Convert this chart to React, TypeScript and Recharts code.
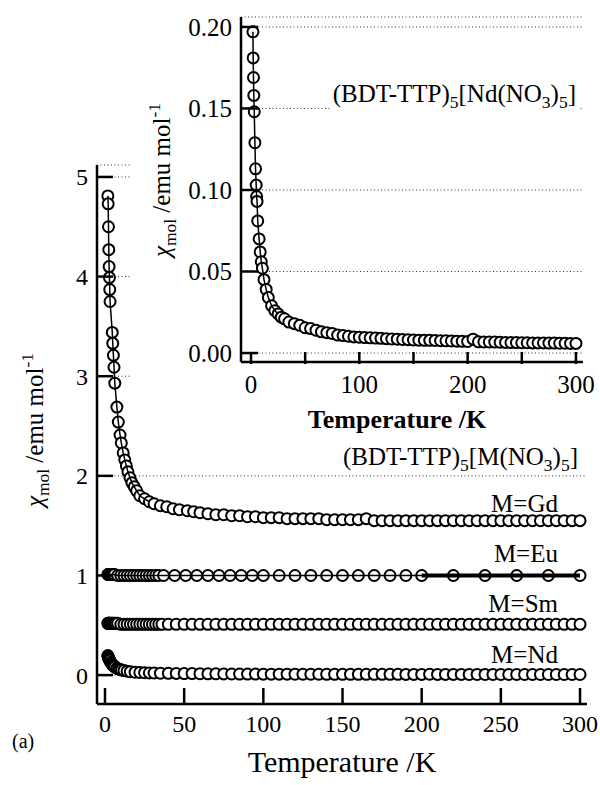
import React from 'react';
import { ScatterChart, Scatter, XAxis, YAxis, CartesianGrid } from 'recharts';

const FONT = '"Liberation Serif", "Times New Roman", serif';

// tick values
const mainXTicks = [0, 50, 100, 150, 200, 250, 300];
const mainYTicks = [0, 1, 2, 3, 4, 5];
const insetXTicks = [0, 50, 100, 150, 200, 250, 300];
const insetYTicks = [0, 0.05, 0.1, 0.15, 0.2];

// M = Gd (plotted with its vertical offset)
const gdT = [
  1.8, 2.0, 2.2, 2.4, 2.6, 2.8, 3.0, 3.2, 4.6, 4.9, 5.3, 5.7, 6.2, 7.5, 8.4, 9.5, 10.3, 11.5,
  12.5, 13.5, 14.5, 15.8, 17, 18.5, 20, 22, 25, 28, 31, 35, 39, 43, 47, 52, 56, 60,
  65, 70, 75, 80, 85, 90, 95, 100, 105, 110, 115, 120, 125, 130, 135, 140, 145, 150, 155, 160,
  165, 170, 175, 180, 185, 190, 195, 200, 205, 210, 215, 220, 225, 230, 235, 240, 245, 250,
  255, 260, 265, 270, 275, 280, 285, 290, 295, 300,
];
const gdChi = [
  4.81, 4.73, 4.5, 4.27, 4.1, 3.99, 3.87, 3.75, 3.44, 3.33, 3.21, 3.09, 2.93, 2.69, 2.54, 2.41, 2.33, 2.23,
  2.16, 2.1, 2.04, 1.98, 1.93, 1.89, 1.85, 1.8, 1.77, 1.74, 1.72, 1.7, 1.69, 1.67, 1.66, 1.65, 1.64, 1.63,
  1.62, 1.61, 1.61, 1.6, 1.6, 1.59, 1.59, 1.58, 1.58, 1.58, 1.57, 1.57, 1.57, 1.57, 1.57, 1.56, 1.56, 1.56, 1.56, 1.56,
  1.57, 1.55, 1.55, 1.55, 1.55, 1.55, 1.55, 1.55, 1.55, 1.55, 1.55, 1.55, 1.55, 1.55, 1.55, 1.55, 1.55, 1.55,
  1.55, 1.55, 1.55, 1.55, 1.55, 1.55, 1.55, 1.55, 1.55, 1.55,
];

// M = Eu
const euT = [
  1.8, 2.1, 2.4, 2.7, 3.0, 3.4, 3.8, 4.2, 4.6, 5.0, 5.5, 6, 8, 10, 12, 14, 16, 18, 20, 22, 24, 26,
  28, 30, 32, 34, 37, 44, 51, 58, 65, 72, 79, 86, 93, 100, 110, 120, 130, 140, 150, 160, 170, 180,
  190, 200, 220, 240, 260, 280, 300,
];
const euChi = [
  1.01, 1.01, 1.01, 1.01, 1.01, 1.01, 1.01, 1.01, 1.01, 1.01, 1.01, 1.01, 1.0, 1.0, 1.0, 1.0, 1.0, 1.0, 1.0, 1.0, 1.0, 1.0,
  1.0, 1.0, 1.0, 1.0, 1.0, 1.0, 1.0, 1.0, 1.0, 1.0, 1.0, 1.0, 1.0, 1.0, 1.0, 1.0, 1.0, 1.0, 1.0, 1.0, 1.0, 1.0,
  1.0, 1.0, 1.0, 1.0, 1.0, 1.0, 1.0,
];

// M = Sm
const smT = [
  1.8, 2.0, 2.3, 2.6, 3.0, 3.4, 3.8, 4.3, 4.8, 5.4, 6, 7, 8, 10, 12, 14, 16, 18, 20, 22, 24, 26, 28,
  30, 32, 34, 36, 40, 45, 50, 55, 60, 65, 70, 75, 80, 85, 90, 95, 100, 105, 110, 115, 120, 125, 130,
  135, 140, 145, 150, 155, 160, 165, 170, 175, 180, 185, 190, 195, 200, 205, 210, 215, 220, 225, 230,
  235, 240, 245, 250, 255, 260, 265, 270, 275, 280, 285, 290, 295, 300,
];
const smChi = [
  0.52, 0.52, 0.52, 0.52, 0.52, 0.52, 0.52, 0.52, 0.52, 0.52, 0.52, 0.52, 0.52, 0.51, 0.51, 0.51, 0.51, 0.51, 0.51, 0.51, 0.51, 0.51, 0.51,
  0.51, 0.51, 0.51, 0.51, 0.51, 0.51, 0.51, 0.51, 0.51, 0.51, 0.51, 0.51, 0.51, 0.51, 0.51, 0.51, 0.51, 0.51, 0.51, 0.51, 0.51, 0.51, 0.51,
  0.51, 0.51, 0.51, 0.51, 0.51, 0.51, 0.51, 0.51, 0.51, 0.51, 0.51, 0.51, 0.51, 0.51, 0.51, 0.51, 0.51, 0.51, 0.51, 0.51,
  0.51, 0.51, 0.51, 0.51, 0.51, 0.51, 0.51, 0.51, 0.51, 0.51, 0.51, 0.51, 0.51, 0.51,
];

// M = Nd (main panel and inset)
const ndT = [
  1.8, 2.0, 2.3, 2.6, 3.0, 3.6, 4.2, 4.8, 5.2, 5.6, 6.2, 7.5, 8.5, 9.5, 10.5, 12, 14, 16, 19, 22, 25,
  28, 31, 35, 40, 45, 50, 55, 60, 65, 70, 75, 80, 85, 90, 95, 100, 105, 110, 115, 120, 125, 130, 135,
  140, 145, 150, 155, 160, 165, 170, 175, 180, 185, 190, 195, 200, 205, 210, 215, 220, 225, 230, 235,
  240, 245, 250, 255, 260, 265, 270, 275, 280, 285, 290, 295, 300,
];
const ndChi = [
  0.197, 0.181, 0.169, 0.158, 0.148, 0.129, 0.113, 0.103, 0.096, 0.093, 0.081, 0.07, 0.062, 0.056, 0.052, 0.045, 0.039, 0.034, 0.029, 0.026, 0.024,
  0.022, 0.021, 0.019, 0.018, 0.017, 0.0155, 0.015, 0.014, 0.013, 0.0125, 0.012, 0.011, 0.0107, 0.0103, 0.0099, 0.0097, 0.0095, 0.0093, 0.0092, 0.009, 0.0088, 0.0086, 0.0085,
  0.0083, 0.0082, 0.008, 0.0079, 0.0078, 0.0078, 0.0077, 0.0076, 0.0075, 0.0074, 0.0073, 0.0072, 0.0071, 0.0085, 0.0069, 0.0068, 0.0068, 0.0067, 0.0066, 0.0065,
  0.0064, 0.0064, 0.0063, 0.0063, 0.0062, 0.0062, 0.0062, 0.0061, 0.0061, 0.006, 0.006, 0.0059, 0.0059,
];

const pts = (t: number[], v: number[]) => t.map((x, i) => ({ x, y: v[i] }));

const gdData = pts(gdT, gdChi);
const euData = pts(euT, euChi);
const smData = pts(smT, smChi);
const ndData = pts(ndT, ndChi);
const gdFit = gdData.filter((p) => p.x <= 30);
const euFit = euData.filter((p) => p.x >= 200);
const ndFit = ndData.filter((p) => p.x <= 25);

const OpenCircle = (props: any) => {
  const { cx, cy } = props;
  if (cx == null || cy == null) return <g />;
  return <circle cx={cx} cy={cy} r={5.5} fill="#fff" stroke="#000" strokeWidth={2} />;
};
const NoMark = () => <g />;

// inward ticks: label outside, short bar pointing into the plot
const GAP = 9;
const leftTick = (len: number, size: number, fmt: (v: number) => string) => (p: any) => (
  <g>
    <line x1={p.x + GAP} x2={p.x + GAP + len} y1={p.y} y2={p.y} stroke="#000" strokeWidth={2.5} />
    <text x={p.x} y={p.y} dy="0.35em" textAnchor="end" fontSize={size} fontFamily={FONT} fill="#000">
      {fmt(p.payload.value)}
    </text>
  </g>
);
const bottomTick = (len: number, size: number, show: (v: number) => boolean) => (p: any) => (
  <g>
    <line x1={p.x} x2={p.x} y1={p.y - GAP} y2={p.y - GAP - len} stroke="#000" strokeWidth={2.5} />
    {show(p.payload.value) && (
      <text x={p.x} y={p.y} dy="0.8em" textAnchor="middle" fontSize={size} fontFamily={FONT} fill="#000">
        {p.payload.value}
      </text>
    )}
  </g>
);

const frame = { stroke: '#000', strokeWidth: 2.5 };

const YTitle = ({ x, y, size }: { x: number; y: number; size: number }) => (
  <text x={x} y={y} transform={`rotate(-90 ${x} ${y})`} textAnchor="middle" fontSize={size} fontFamily={FONT} fill="#000">
    <tspan fontStyle="italic">χ</tspan>
    <tspan fontSize={size * 0.7} dy={size * 0.25}>mol</tspan>
    <tspan dy={-size * 0.25}> /emu mol</tspan>
    <tspan fontSize={size * 0.7} dy={-size * 0.4}>-1</tspan>
  </text>
);

const Formula = ({ x, y, metal, size }: { x: number; y: number; metal: string; size: number }) => (
  <text x={x} y={y} textAnchor="end" fontSize={size} fontFamily={FONT} fill="#000">
    (BDT-TTP)<tspan fontSize={size * 0.7} dy={size * 0.25}>5</tspan>
    <tspan dy={-size * 0.25}>[{metal}(NO</tspan>
    <tspan fontSize={size * 0.7} dy={size * 0.25}>3</tspan>
    <tspan dy={-size * 0.25}>)</tspan>
    <tspan fontSize={size * 0.7} dy={size * 0.25}>5</tspan>
    <tspan dy={-size * 0.25}>]</tspan>
  </text>
);

export default function App() {
  return (
    <div style={{ position: 'absolute', left: 0, top: 0, width: 600, height: 785, background: '#fff' }}>
      <div style={{ position: 'absolute', left: 0, top: 0 }}>
        <ScatterChart width={600} height={785} margin={{ top: 165, right: 13, bottom: 41, left: 0 }}>
          <CartesianGrid vertical={false} stroke="#333" strokeDasharray="1 2.5" />
          <XAxis
            type="number"
            dataKey="x"
            domain={[-5.05, 304.4]}
            ticks={mainXTicks}
            interval={0}
            allowDataOverflow
            height={40}
            tickSize={0}
            tickMargin={GAP}
            tickLine={false}
            axisLine={frame}
            tick={bottomTick(16, 24, () => true)}
          />
          <XAxis xAxisId="top" orientation="top" type="number" domain={[-5.05, 304.4]} height={0} tick={false} tickLine={false} axisLine={frame} />
          <YAxis
            type="number"
            dataKey="y"
            domain={[-0.29, 5.12]}
            ticks={mainYTicks}
            interval={0}
            allowDataOverflow
            width={97}
            tickSize={0}
            tickMargin={GAP}
            tickLine={false}
            axisLine={frame}
            tick={leftTick(16, 24, (v) => String(v))}
          />
          <YAxis yAxisId="right" orientation="right" type="number" domain={[-0.29, 5.12]} width={0} tick={false} tickLine={false} axisLine={frame} />
          <Scatter name="M=Nd" data={ndData} shape={OpenCircle} isAnimationActive={false} />
          <Scatter name="M=Sm" data={smData} shape={OpenCircle} isAnimationActive={false} />
          <Scatter name="M=Eu" data={euData} shape={OpenCircle} isAnimationActive={false} />
          <Scatter name="Eu line" data={euData} shape={NoMark} line={{ stroke: '#000', strokeWidth: 1.5 }} isAnimationActive={false} />
          <Scatter name="Eu fit" data={euFit} shape={NoMark} line={{ stroke: '#000', strokeWidth: 4 }} isAnimationActive={false} />
          <Scatter name="M=Gd" data={gdData} shape={OpenCircle} isAnimationActive={false} />
          <Scatter name="Gd fit" data={gdFit} shape={NoMark} line={{ stroke: '#000', strokeWidth: 1.5 }} isAnimationActive={false} />
        </ScatterChart>
      </div>

      <div style={{ position: 'absolute', left: 130, top: 0, width: 470, height: 445, background: '#fff' }}>
        <ScatterChart width={470} height={445} margin={{ top: 17, right: 17, bottom: 43, left: 0 }}>
          <CartesianGrid vertical={false} stroke="#333" strokeDasharray="1 2.5" />
          <XAxis
            type="number"
            dataKey="x"
            domain={[-9.23, 306.5]}
            ticks={insetXTicks}
            interval={0}
            allowDataOverflow
            height={40}
            tickSize={0}
            tickMargin={GAP + 2}
            tickLine={false}
            axisLine={frame}
            tick={bottomTick(12, 25, (v) => v % 100 === 0)}
          />
          <XAxis xAxisId="top" orientation="top" type="number" domain={[-9.23, 306.5]} height={0} tick={false} tickLine={false} axisLine={frame} />
          <YAxis
            type="number"
            dataKey="y"
            domain={[-0.0055, 0.2061]}
            ticks={insetYTicks}
            interval={0}
            allowDataOverflow
            width={111}
            tickSize={0}
            tickMargin={GAP}
            tickLine={false}
            axisLine={frame}
            tick={leftTick(17, 25, (v) => v.toFixed(2))}
          />
          <YAxis yAxisId="right" orientation="right" type="number" domain={[-0.0055, 0.2061]} width={0} tick={false} tickLine={false} axisLine={frame} />
          <Scatter name="Nd" data={ndData} shape={OpenCircle} isAnimationActive={false} />
          <Scatter name="Nd fit" data={ndFit} shape={NoMark} line={{ stroke: '#000', strokeWidth: 1.5 }} isAnimationActive={false} />
        </ScatterChart>
      </div>

      <svg style={{ position: 'absolute', left: 0, top: 0, pointerEvents: 'none' }} width={600} height={785}>
        <rect x={332} y={82} width={248} height={32} fill="#fff" />
        <Formula x={576} y={102} metal="Nd" size={25} />
        <YTitle x={170} y={180} size={25} />
        <text x={397} y={428} textAnchor="middle" fontSize={26} fontWeight="bold" fontFamily={FONT} fill="#000">
          Temperature /K
        </text>

        <Formula x={578} y={465} metal="M" size={25} />
        <text x={558} y={512} textAnchor="end" fontSize={25} fontFamily={FONT} fill="#000">M=Gd</text>
        <text x={558} y={562} textAnchor="end" fontSize={25} fontFamily={FONT} fill="#000">M=Eu</text>
        <text x={558} y={612} textAnchor="end" fontSize={25} fontFamily={FONT} fill="#000">M=Sm</text>
        <text x={558} y={663} textAnchor="end" fontSize={25} fontFamily={FONT} fill="#000">M=Nd</text>
        <YTitle x={43} y={430} size={25} />
        <text x={342} y={772} textAnchor="middle" fontSize={30} fontFamily={FONT} fill="#000">
          Temperature /K
        </text>
        <text x={12} y={748} fontSize={20} fontFamily={FONT} fill="#000">(a)</text>
      </svg>
    </div>
  );
}
